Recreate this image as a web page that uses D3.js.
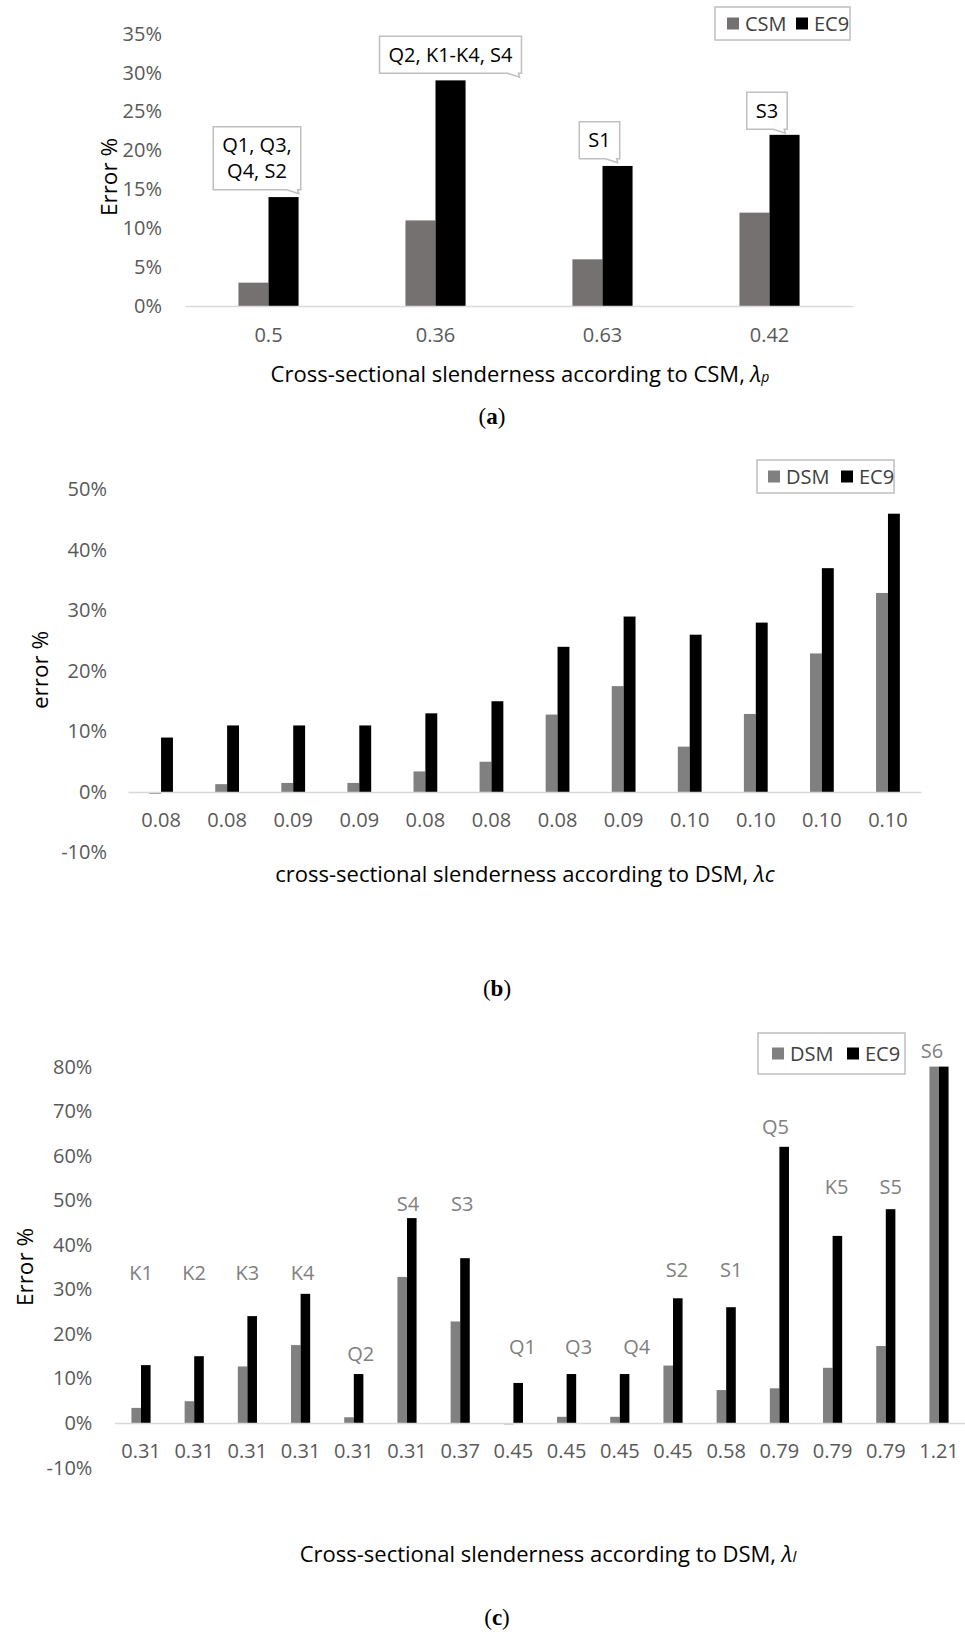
<!DOCTYPE html>
<html><head><meta charset="utf-8">
<script src="https://cdn.jsdelivr.net/npm/d3@7"></script>
<style>
body{margin:0;background:#fff}
svg{display:block}
text{font-family:"Open Sans",sans-serif}
</style></head><body>
<svg id="fig" width="965" height="1632"></svg>
<script>
// ---------- data ----------
// (a) CSM vs EC9
const catsA = ["0.5", "0.36", "0.63", "0.42"];
const csmA = [0.03, 0.11, 0.06, 0.12];
const ec9A = [0.14, 0.29, 0.18, 0.22];
const ticksA = [0, 0.05, 0.10, 0.15, 0.20, 0.25, 0.30, 0.35];
const notesA = [["Q1, Q3,", "Q4, S2"], ["Q2, K1-K4, S4"], ["S1"], ["S3"]];
const noteLevelA = [0.19, 0.323, 0.213, 0.251];

// (b) DSM vs EC9, global slenderness
const catsB = ["0.08","0.08","0.09","0.09","0.08","0.08","0.08","0.09","0.10","0.10","0.10","0.10"];
const dsmB = [-0.003, 0.013, 0.015, 0.015, 0.034, 0.05, 0.128, 0.175, 0.075, 0.129, 0.229, 0.329];
const ec9B = [0.09, 0.11, 0.11, 0.11, 0.13, 0.15, 0.24, 0.29, 0.26, 0.28, 0.37, 0.46];
const ticksB = [-0.1, 0, 0.1, 0.2, 0.3, 0.4, 0.5];

// (c) DSM vs EC9, local slenderness
const catsC = ["0.31","0.31","0.31","0.31","0.31","0.31","0.37","0.45","0.45","0.45","0.45","0.58","0.79","0.79","0.79","1.21"];
const dsmC = [0.034, 0.049, 0.127, 0.175, 0.013, 0.328, 0.228, -0.003, 0.014, 0.014, 0.129, 0.074, 0.078, 0.124, 0.173, 0.80];
const ec9C = [0.13, 0.15, 0.24, 0.29, 0.11, 0.46, 0.37, 0.09, 0.11, 0.11, 0.28, 0.26, 0.62, 0.42, 0.48, 0.80];
const namesC = ["K1","K2","K3","K4","Q2","S4","S3","Q1","Q3","Q4","S2","S1","Q5","K5","S5","S6"];
const labelLevelC = [0.336, 0.336, 0.336, 0.336, 0.155, 0.491, 0.491, 0.17, 0.17, 0.17, 0.343, 0.343, 0.664, 0.529, 0.529, 0.836];
const ticksC = [-0.1, 0, 0.1, 0.2, 0.3, 0.4, 0.5, 0.6, 0.7, 0.8];

// ---------- layout ----------
const svg = d3.select("#fig");
const TICK = "#595959", AXIS = "#d9d9d9", BORDER = "#bfbfbf";
const FS = 20;
const pct = v => d3.format(".0%")(v).replace("\u2212", "-");
const noteNudgeA = [-11.5, 15, -3, -2.5];
const labelNudgeC = [0, 0, 0, 2, 7, 1, 2, 9, 12, 17, 4, 5, -4, 4, 5, -7];

function panel(cfg) {
  const g = svg.append("g");
  const idx = cfg.cats.map((d, i) => i);
  const x0 = d3.scaleBand().domain(idx).range(cfg.xr).paddingInner(0.64).paddingOuter(0.32);
  const x1 = d3.scaleBand().domain(["a", "b"]).range([0, x0.bandwidth()]);
  const y = d3.scaleLinear().domain(cfg.yd).range(cfg.yr);

  // y axis labels
  const ya = g.append("g").attr("transform", `translate(${cfg.xr[0]},0)`)
    .call(d3.axisLeft(y).tickValues(cfg.ticks).tickFormat(pct).tickSize(0).tickPadding(cfg.ypad));
  ya.select(".domain").remove();
  ya.selectAll("text").attr("fill", TICK).style("font-size", FS + "px").style("font-family", '"Open Sans",sans-serif');

  // bars
  const grp = g.append("g").selectAll("g").data(idx).join("g")
    .attr("transform", i => `translate(${x0(i)},0)`);
  grp.append("rect").attr("x", x1("a")).attr("width", x1.bandwidth())
    .attr("y", i => y(Math.max(0, cfg.s1[i])))
    .attr("height", i => Math.abs(y(cfg.s1[i]) - y(0)))
    .attr("fill", cfg.c1);
  grp.append("rect").attr("x", x1("b")).attr("width", x1.bandwidth())
    .attr("y", i => y(Math.max(0, cfg.s2[i])))
    .attr("height", i => Math.abs(y(cfg.s2[i]) - y(0)))
    .attr("fill", "#000");

  // category axis on the zero line
  const xa = g.append("g").attr("transform", `translate(0,${y(0)})`)
    .call(d3.axisBottom(x0).tickFormat(i => cfg.cats[i]).tickSize(0).tickSizeOuter(0).tickPadding(cfg.xpad));
  xa.select(".domain").attr("stroke", AXIS).attr("stroke-width", 1.5);
  xa.selectAll("text").attr("fill", TICK).style("font-size", FS + "px").style("font-family", '"Open Sans",sans-serif');

  // y title
  g.append("text").attr("transform", `translate(${cfg.ytitle[0]},${cfg.ytitle[1]}) rotate(-90)`)
    .attr("text-anchor", "middle").attr("dy", "0.35em")
    .style("font-size", "22.5px").attr("fill", "#000").text(cfg.ytext);

  // x title with italic slenderness symbol
  const xt = g.append("text").attr("x", cfg.xtitle[0]).attr("y", cfg.xtitle[1])
    .attr("text-anchor", "middle").attr("dy", "0.35em").style("font-size", "22px").attr("fill", "#000");
  xt.append("tspan").text(cfg.xtext);
  xt.append("tspan").attr("font-style", "italic").text("λ");
  xt.append("tspan").attr("font-style", "italic").style("font-size", cfg.subSize).text(cfg.sub);

  // legend
  const L = cfg.legend;
  const lg = g.append("g");
  lg.append("rect").attr("x", L.x).attr("y", L.y).attr("width", L.w).attr("height", L.h)
    .attr("fill", "#fff").attr("stroke", BORDER).attr("stroke-width", 1.5);
  const cy = L.y + L.h / 2;
  [[L.sx[0], cfg.c1, cfg.n1], [L.sx[1], "#000", "EC9"]].forEach(([sx, col, name]) => {
    lg.append("rect").attr("x", sx).attr("y", cy - 6).attr("width", 12).attr("height", 12).attr("fill", col);
    lg.append("text").attr("x", sx + 18).attr("y", cy).attr("dy", "0.35em")
      .style("font-size", FS + "px").attr("fill", "#404040").text(name);
  });

  // caption
  const cap = svg.append("text").attr("x", cfg.cap[0]).attr("y", cfg.cap[1])
    .attr("text-anchor", "middle").style("font-family", '"Liberation Serif",serif').style("font-size", "23px");
  cap.append("tspan").text("(");
  cap.append("tspan").attr("font-weight", "bold").text(cfg.capLetter);
  cap.append("tspan").text(")");

  return {g, x0, x1, y};
}

// ---------- (a) ----------
const A = panel({
  cats: catsA, s1: csmA, s2: ec9A, c1: "#767171", n1: "CSM",
  xr: [185, 853], yd: [0, 0.35], yr: [306, 33.7], ticks: ticksA, ypad: 23, xpad: 22,
  ytitle: [109, 177], ytext: "Error %",
  xtitle: [520, 374], xtext: "Cross-sectional slenderness according to CSM, ", sub: "p", subSize: "14px",
  legend: {x: 715, y: 7, w: 135, h: 33, sx: [727, 796]},
  cap: [492, 424], capLetter: "a"
});

// callout notes above the bars
notesA.forEach((lines, i) => {
  const cx = A.x0(i) + A.x0.bandwidth() / 2 + noteNudgeA[i];
  const cy = A.y(noteLevelA[i]);
  const gg = A.g.append("g");
  const lh = 26;
  const texts = lines.map((t, k) => gg.append("text").attr("x", cx)
    .attr("y", cy + (k - (lines.length - 1) / 2) * lh).attr("dy", "0.35em")
    .attr("text-anchor", "middle").style("font-size", FS + "px").attr("fill", "#000").text(t));
  const w = d3.max(texts, t => t.node().getComputedTextLength()) + 18;
  const h = lines.length * lh + 11;
  const l = cx - w / 2, t = cy - h / 2, r = cx + w / 2, b = cy + h / 2;
  gg.insert("path", "text")
    .attr("d", `M${l},${t}H${r}V${b}H${r - 3}L${r - 2},${b + 4}L${r - 14},${b}H${l}Z`)
    .attr("fill", "#fff").attr("stroke", BORDER).attr("stroke-width", 1.5);
});

// ---------- (b) ----------
panel({
  cats: catsB, s1: dsmB, s2: ec9B, c1: "#808080", n1: "DSM",
  xr: [128, 921], yd: [-0.1, 0.5], yr: [852.5, 489.5], ticks: ticksB, ypad: 21, xpad: 21,
  ytitle: [40, 670], ytext: "error %",
  xtitle: [525, 874], xtext: "cross-sectional slenderness according to DSM, ", sub: "c", subSize: "22px",
  legend: {x: 757, y: 460, w: 137, h: 33, sx: [768, 841]},
  cap: [497, 996], capLetter: "b"
});

// ---------- (c) ----------
const C = panel({
  cats: catsC, s1: dsmC, s2: ec9C, c1: "#808080", n1: "DSM",
  xr: [114.4, 965.6], yd: [-0.1, 0.8], yr: [1467.6, 1066.6], ticks: ticksC, ypad: 22, xpad: 21,
  ytitle: [25, 1267], ytext: "Error %",
  xtitle: [548, 1554], xtext: "Cross-sectional slenderness according to DSM, ", sub: "l", subSize: "15px",
  legend: {x: 758, y: 1033, w: 147, h: 41, sx: [772, 847]},
  cap: [497, 1625], capLetter: "c"
});

// specimen names over each pair of bars
C.g.append("g").selectAll("text").data(namesC).join("text")
  .attr("x", (d, i) => C.x0(i) + C.x0.bandwidth() / 2 + labelNudgeC[i])
  .attr("y", (d, i) => C.y(labelLevelC[i])).attr("dy", "0.35em")
  .attr("text-anchor", "middle").style("font-size", FS + "px").attr("fill", "#808080")
  .text(d => d);
</script>
</body></html>
